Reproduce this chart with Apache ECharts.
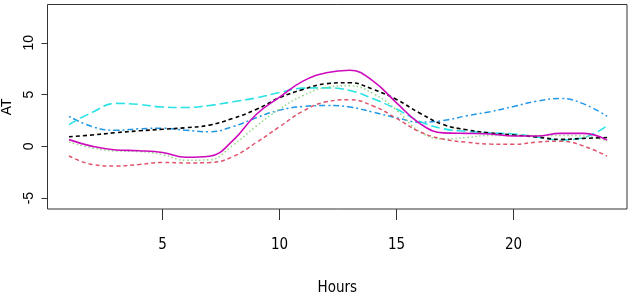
<!DOCTYPE html>
<html>
<head>
<meta charset="utf-8">
<script src="https://cdn.jsdelivr.net/npm/echarts@6.0.0/dist/echarts.min.js"></script>
<style>
  html, body { margin: 0; padding: 0; background: #fff; }
  #main { width: 632px; height: 296px; }
</style>
</head>
<body>
<div id="main"></div>
<script>
// hours on the x axis
let hours = [1, 2, 3, 4, 5, 6, 7, 8, 9, 10, 11, 12, 13, 14, 15, 16, 17, 18, 19, 20, 21, 22, 23, 24];
let xTicks = [5, 10, 15, 20];
let yTicks = [-5, 0, 5, 10];

// one curve per group
let magentaAT = [0.65, 0.0, -0.35, -0.42, -0.6, -1.05, -0.95, 0.55, 3.08, 4.75, 6.3, 7.1, 7.35, 6.3, 4.2, 2.2, 1.3, 1.25, 1.2, 1.0, 1.0, 1.25, 1.25, 0.6];
let blackAT = [0.93, 1.1, 1.32, 1.5, 1.65, 1.8, 2.05, 2.7, 3.56, 4.7, 5.5, 6.05, 6.15, 5.5, 4.52, 3.2, 2.1, 1.6, 1.3, 1.1, 0.9, 0.67, 0.77, 0.85];
let cyanAT = [2.1, 3.3, 4.15, 4.05, 3.8, 3.75, 3.95, 4.3, 4.68, 5.2, 5.62, 5.65, 5.4, 4.6, 3.6, 2.4, 1.7, 1.45, 1.3, 1.2, 0.9, 0.62, 0.85, 2.0];
let blueAT = [2.9, 1.9, 1.55, 1.7, 1.75, 1.55, 1.4, 1.9, 2.76, 3.5, 3.85, 3.94, 3.8, 3.3, 2.76, 2.34, 2.5, 2.95, 3.35, 3.85, 4.36, 4.62, 4.1, 2.9];
let greenAT = [0.41, -0.15, -0.45, -0.5, -0.8, -1.35, -1.3, 0.1, 1.95, 3.6, 4.9, 5.7, 5.85, 5.1, 3.5, 1.4, 0.7, 0.85, 1.06, 1.06, 1.06, 1.06, 1.0, 0.5];
let redAT = [-0.93, -1.75, -1.9, -1.75, -1.55, -1.6, -1.57, -1.0, 0.36, 1.9, 3.4, 4.3, 4.5, 3.9, 2.7, 1.4, 0.7, 0.4, 0.22, 0.2, 0.41, 0.5, 0.03, -0.95];

let narrowFont = '"Liberation Sans Narrow", "DejaVu Sans Condensed", "Liberation Sans", sans-serif';

let myChart = echarts.init(document.getElementById('main'), null, {renderer: 'canvas'});

function pairs(values) {
  return hours.map(function (h, i) { return [h, values[i]]; });
}

function curve(name, values, color, dash, width) {
  return {
    name: name,
    type: 'line',
    data: pairs(values),
    smooth: 0.45,
    showSymbol: false,
    symbol: 'none',
    lineStyle: { color: color, width: width, type: dash },
    z: 3
  };
}

let option = {
  animation: false,
  backgroundColor: '#ffffff',
  grid: {
    left: 47.5,
    right: 5,
    top: 4.5,
    bottom: 87,
    outerBoundsMode: 'none',
    containLabel: false,
    show: true,
    borderColor: '#333',
    borderWidth: 1,
    backgroundColor: 'transparent'
  },
  xAxis: {
    type: 'value',
    min: 0.08,
    max: 24.85,
    name: 'Hours',
    nameLocation: 'middle',
    nameGap: 72,
    nameTextStyle: { fontFamily: narrowFont, fontSize: 15, color: '#000' },
    axisLine: { show: false, onZero: false },
    splitLine: { show: false },
    axisTick: { show: true, length: 11, customValues: xTicks, lineStyle: { color: '#333' } },
    axisLabel: { customValues: xTicks, margin: 29, fontFamily: narrowFont, fontSize: 15, color: '#000' }
  },
  yAxis: {
    type: 'value',
    min: -6.05,
    max: 13.7,
    name: 'AT',
    nameLocation: 'middle',
    nameRotate: 90,
    nameGap: 29,
    nameTextStyle: { fontFamily: 'Liberation Sans, sans-serif', fontSize: 14, color: '#000' },
    axisLine: { show: false, onZero: false },
    splitLine: { show: false },
    axisTick: { show: true, length: 6, customValues: yTicks, lineStyle: { color: '#333' } },
    axisLabel: { customValues: yTicks, rotate: 90, margin: 11, fontFamily: 'Liberation Sans, sans-serif', fontSize: 14, color: '#000' }
  },
  series: [
    curve('blue', blueAT, '#2297E6', [2, 3, 6, 3], 1.5),
    curve('cyan', cyanAT, '#28E2E5', [9, 4], 1.6),
    curve('green', greenAT, '#8ED884', [1.5, 2.5], 1.5),
    curve('red', redAT, '#DF536B', [4, 3], 1.5),
    curve('black', blackAT, '#000000', [4, 3], 1.6),
    curve('magenta', magentaAT, '#CD0BBC', 'solid', 1.6)
  ]
};

myChart.setOption(option);
</script>
</body>
</html>
